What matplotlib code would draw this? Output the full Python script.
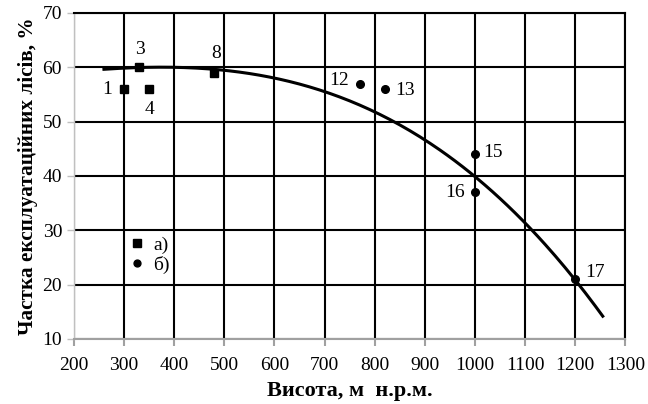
import numpy as np
import matplotlib
matplotlib.use("Agg")
import matplotlib.pyplot as plt

plt.rcParams['font.family'] = ['Liberation Serif', 'DejaVu Serif']

# Series a) squares
sq_x = [300, 330, 350, 480]
sq_y = [56, 60, 56, 59]
sq_lab = ['1', '3', '4', '8']
# Series b) circles
ci_x = [770, 820, 1000, 1000, 1200]
ci_y = [57, 56, 44, 37, 21]
ci_lab = ['12', '13', '15', '16', '17']
# Trend curve readings
tr_x = [260, 400, 500, 600, 700, 800, 900, 1000, 1100, 1200, 1255]
tr_y = [59.8, 59.9, 59.2, 57.8, 55.3, 52.5, 47.2, 40.0, 30.0, 21.0, 14.6]

fig = plt.figure(figsize=(6.48, 4.04), dpi=100)
ax = fig.add_axes([0.114, 0.161, 0.851, 0.807])

coef = np.polyfit(tr_x, tr_y, 3)
xs = np.linspace(min(tr_x), max(tr_x), 200)
ax.plot(xs, np.polyval(coef, xs), color='black', lw=2.2, zorder=3)

ax.plot(sq_x, sq_y, 's', color='black', ms=6, zorder=4, label='а)')
ax.plot(ci_x, ci_y, 'o', color='black', ms=5.5, zorder=4, label='б)')

offsets = {'1': (-12, 0), '3': (1, 13), '4': (0, -15), '8': (1, 14),
           '12': (-15, 2), '13': (15, -1), '15': (13, 1), '16': (-14, 0), '17': (14, 5)}
for x, y, l in list(zip(sq_x, sq_y, sq_lab)) + list(zip(ci_x, ci_y, ci_lab)):
    dx, dy = offsets[l]
    ax.annotate(l, (x, y), xytext=(dx, dy), textcoords='offset points',
                ha='center', va='center', fontsize=14, zorder=5)

ax.set_xlim(200, 1300)
ax.set_ylim(10, 70)
ax.set_xticks(np.arange(200, 1301, 100))
ax.set_yticks(np.arange(10, 71, 10))
ax.grid(True, color='black', lw=1.5)
ax.set_axisbelow(True)
for s in ['top', 'right']:
    ax.spines[s].set_color('black')
    ax.spines[s].set_linewidth(1.5)
ax.spines['bottom'].set_color('#a0a0a0')
ax.spines['bottom'].set_linewidth(1.5)
ax.spines['left'].set_color('#c0c0c0')
ax.spines['left'].set_linewidth(1)
ax.tick_params(axis='x', colors='#a0a0a0', length=5, width=1.5, labelcolor='black', labelsize=14, pad=8)
ax.tick_params(axis='y', colors='#c0c0c0', length=5, width=1, labelcolor='black', labelsize=14)

ax.set_xlabel('Висота, м  н.р.м.', fontsize=16, fontweight='bold', labelpad=5)
ax.set_ylabel('Частка експлуатаційних лісів, %', fontsize=15.3, fontweight='bold', labelpad=3)

leg = ax.legend(loc='upper left', bbox_to_anchor=(0.08, 0.34), frameon=False,
                fontsize=14, handletextpad=0.2, labelspacing=0.1, borderaxespad=0,
                markerscale=0.9, handlelength=1.2)

fig.savefig('out.png', dpi=100)
